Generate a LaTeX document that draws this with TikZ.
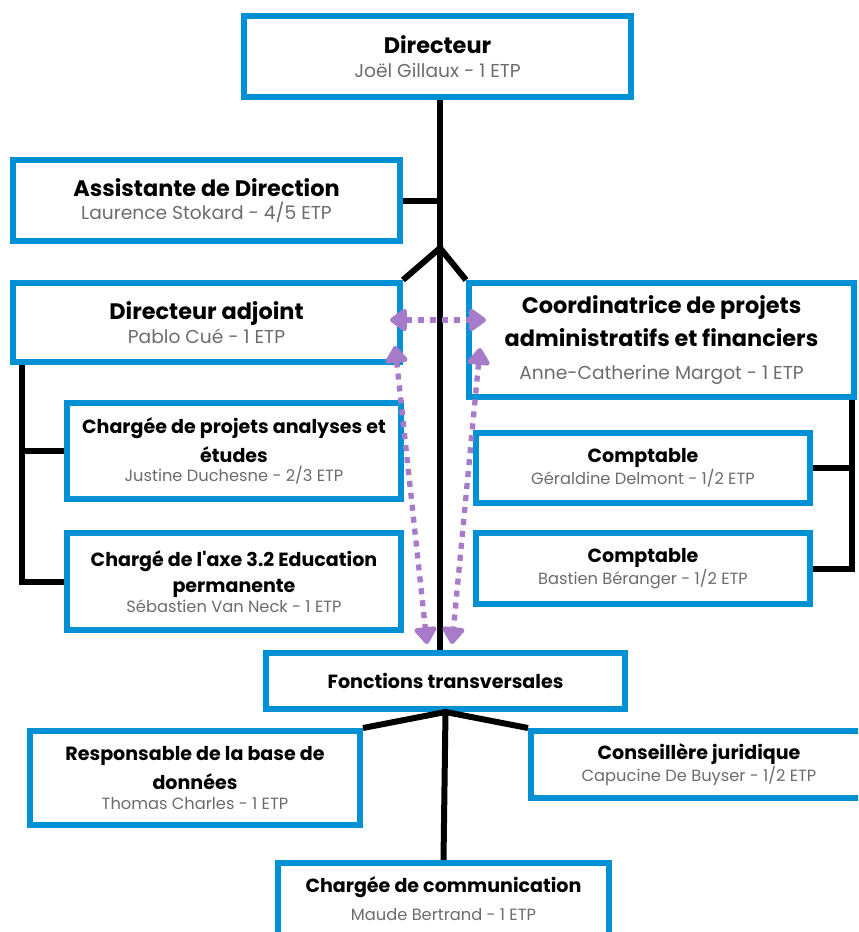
\documentclass[tikz,border=0pt]{standalone}
\usepackage{fontspec}
\setmainfont{Poppins}
\usetikzlibrary{arrows.meta,calc}

\definecolor{boxblue}{RGB}{0,144,212}
\definecolor{linkpurple}{RGB}{167,123,202}
\definecolor{namegray}{RGB}{108,108,108}

\newcommand{\rolefont}{\fontsize{16.8}{17.5}\selectfont\bfseries}
\newcommand{\namefont}{\fontsize{14}{17.5}\selectfont\mdseries\color{namegray}}
\newcommand{\smallrole}{\fontsize{14.3}{14.5}\selectfont\bfseries}
\newcommand{\smallname}{\fontsize{12.2}{14.5}\selectfont\mdseries\color{namegray}}

\tikzset{every picture/.style={line width=0.75pt}}
\tikzset{
  post/.style 2 args={draw=boxblue, line width=4.5pt, fill=white, inner sep=0pt,
    minimum width=#1*0.75pt, minimum height=#2*0.75pt, align=center, text=black},
  toprole/.style={font=\rolefont},
  subrole/.style={font=\smallrole},
  branch/.style={draw=black, line width=4.5pt},
  link/.style={draw=linkpurple, fill=linkpurple, line width=4pt, dash pattern=on 4.5pt off 4.5pt,
    {Triangle[width=19pt,length=14pt,round]}-{Triangle[width=19pt,length=14pt,round]}}
}

\begin{document}
\begin{tikzpicture}[x=0.75pt,y=0.75pt,yscale=-1,xscale=1]
\useasboundingbox (0,0) rectangle (858,932);
\clip (0,0) rectangle (858,932);

%Shape: Rectangle [direction]
\node[post={387}{81}, toprole] (dir) at (437.5,56.5) {Directeur\\ \namefont Joël Gillaux - 1 ETP};
\node[post={387}{81}, toprole] (assist) at (206.5,200.5) {Assistante de Direction\\ \namefont Laurence Stokard - 4/5 ETP};
\node[post={387}{79}, toprole] (adj) at (206.5,322.5) {Directeur adjoint\\ \namefont Pablo Cué - 1 ETP};
\node[post={385}{114}, toprole] (coord) at (661.5,340) {Coordinatrice de projets\\[5.75pt] administratifs et financiers\\[7.25pt] \namefont Anne-Catherine Margot - 1 ETP};

%Shape: Rectangle [adjoint side]
\node[post={334}{96}, subrole] (proj) at (234,451) {Chargée de projets analyses et\\[5pt] études\\ \smallname Justine Duchesne - 2/3 ETP};
\node[post={334}{97}, subrole] (axe) at (234,581.5) {Chargé de l\textquotesingle axe 3.2 Education\\[5pt] permanente\\ \smallname Sébastien Van Neck - 1 ETP};

%Shape: Rectangle [coordination side]
\node[post={334}{70}, subrole] (compt1) at (643,468) {Comptable\\ \smallname Géraldine Delmont - 1/2 ETP};
\node[post={334}{71}, subrole] (compt2) at (643,568.5) {Comptable\\ \smallname Bastien Béranger - 1/2 ETP};

%Shape: Rectangle [transversal]
\node[post={359}{56}, subrole] (fonct) at (445.5,681) {Fonctions transversales};
\node[post={330}{94}, subrole] (resp) at (195,778) {Responsable de la base de\\[5pt] données\\ \smallname Thomas Charles - 1 ETP};
\node[post={336}{67}, subrole] (cons) at (699,764.5) {Conseillère juridique\\ \smallname Capucine De Buyser - 1/2 ETP};
\node[post={331}{72}, subrole] (comm) at (443.5,899) {Chargée de communication\\[6.5pt] \smallname Maude Bertrand - 1 ETP};

\coordinate (hub) at (440,248);
\coordinate (lrail) at (22,452);
\coordinate (rrail) at (852,468);

%Straight Lines
\draw[branch] (dir.south -| hub) -- (hub |- fonct.north);
\draw[branch] (assist.east) -- (assist.east -| hub);
\draw[branch] (adj.north east) -- (hub) -- (coord.north west);
\draw[branch] (adj.south -| lrail) -- (lrail |- axe.west) -- (axe.west);
\draw[branch] (lrail |- proj.west) -- (proj.west);
\draw[branch] (coord.south -| rrail) -- (rrail |- compt2.east) -- (compt2.east);
\draw[branch] (compt1.east) -- (compt1.east -| rrail);
\draw[branch] (resp.north east) -- (fonct.south) -- (cons.north west);
\draw[branch] (fonct.south) -- (comm.north);

%Dotted arrows
\draw[link] ($(adj.east)+(-13,-2.5)$) -- ($(coord.west)+(20,-20)$);
\draw[link] ($(adj.south east)+(-8,-19)$) -- ($(fonct.north)+(-18.5,-6)$);
\draw[link] ($(coord.south west)+(14,-52)$) -- ($(fonct.north)+(6.5,-6)$);

\end{tikzpicture}
\end{document}
